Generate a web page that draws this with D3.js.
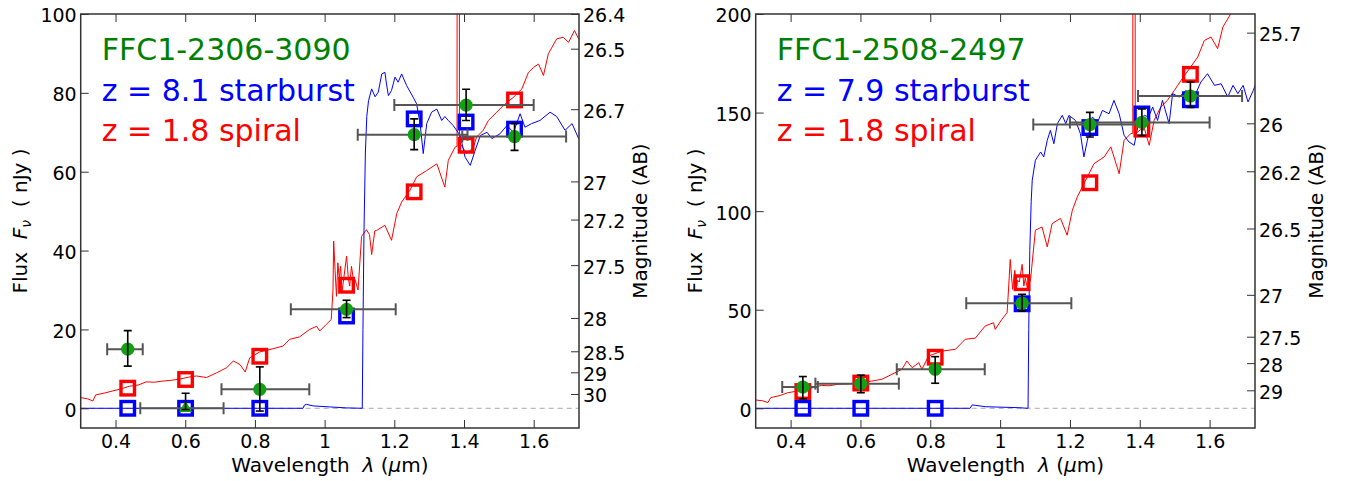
<!DOCTYPE html>
<html><head><meta charset="utf-8">
<script src="https://cdn.jsdelivr.net/npm/d3@7"></script>
<style>
html,body{margin:0;padding:0;background:#fff;}
text{font-family:"DejaVu Sans",sans-serif;white-space:pre;}
</style></head>
<body><svg id="c" width="1349" height="481"></svg>
<script>
// ---------------- data ----------------
const xTicks = [0.4, 0.6, 0.8, 1.0, 1.2, 1.4, 1.6];
const xTickLabels = ["0.4", "0.6", "0.8", "1", "1.2", "1.4", "1.6"];
const xDomain = [0.3, 1.73];

// filter centres and horizontal extents (µm)
const filterX  = [0.435, 0.601, 0.814, 1.063, 1.257, 1.406, 1.545];
const filterLo = [0.376, 0.471, 0.704, 0.903, 1.095, 1.200, 1.395];
const filterHi = [0.478, 0.710, 0.956, 1.204, 1.410, 1.600, 1.693];

// ---- panel 1: FFC1-2306-3090 ----
const p1Title = "FFC1-2306-3090";
const p1Blue = "z = 8.1 starburst";
const p1Red = "z = 1.8 spiral";
const p1YTicks = [0, 20, 40, 60, 80, 100];
const p1YDomain = [-5, 100];
const p1MagTicks = [26.4, 26.5, 26.7, 27, 27.2, 27.5, 28, 28.5, 29, 30];
const p1MagLabels = ["26.4", "26.5", "26.7", "27", "27.2", "27.5", "28", "28.5", "29", "30"];
const p1Obs    = [15.0, 0.0, 4.8, 25.1, 69.4, 76.9, 68.9];
const p1ObsLo  = [10.7, -0.3, -0.7, 23.0, 65.6, 73.0, 65.4];
const p1ObsHi  = [19.7, 3.8, 10.5, 27.4, 73.4, 80.9, 72.2];
const p1Marker = ["o", "^", "o", "o", "o", "o", "o"];
const p1BlueSq = [0, 0, 0, 23.4, 73.4, 72.6, 70.8];
const p1RedSq  = [5.1, 7.3, 13.2, 31.2, 54.9, 66.7, 78.2];
const p1BlueSpec = [[0.3,0],[0.5,0],[0.7,0],[0.938,0],[0.942,0.8],[0.948,1.0],[0.967,0.6],[1.014,0.35],[1.063,0.1],[1.108,0],[1.110,20],[1.113,45],[1.117,65],[1.121,74],[1.126,78],[1.135,81],[1.145,79],[1.154,80.2],[1.164,84.8],[1.173,85.2],[1.178,82],[1.183,79.3],[1.192,80.6],[1.202,84],[1.211,82.7],[1.221,84.8],[1.235,81.9],[1.254,78.9],[1.264,77.2],[1.274,72.2],[1.283,64.6],[1.293,72.2],[1.307,75.1],[1.322,75.9],[1.336,73],[1.345,74],[1.355,73],[1.369,71.7],[1.389,69.2],[1.403,63.7],[1.418,61.6],[1.432,65.4],[1.447,69.2],[1.466,70],[1.48,68.4],[1.503,69.6],[1.523,71.7],[1.542,70],[1.561,74.7],[1.575,71.3],[1.594,72.2],[1.618,73],[1.647,75.1],[1.666,74],[1.69,70.5],[1.71,72.2],[1.729,68.4]];
const p1RedSpec = [[0.3,2.7],[0.32,2.4],[0.335,1.85],[0.343,3.4],[0.37,3.9],[0.392,4.4],[0.415,4.9],[0.44,5.6],[0.465,5.9],[0.488,6.7],[0.51,6.6],[0.536,6.9],[0.56,7.1],[0.584,7.4],[0.61,7.9],[0.632,8.2],[0.661,7.8],[0.69,9.0],[0.719,10.3],[0.738,12.0],[0.757,11.1],[0.772,9.2],[0.785,12.8],[0.814,14.3],[0.852,15.1],[0.881,15.8],[0.9,17.5],[0.928,18.1],[0.957,20.0],[0.977,20.8],[0.986,19.6],[1.005,21.3],[1.019,22.5],[1.024,30],[1.026,42.4],[1.030,35],[1.034,28.4],[1.038,36.9],[1.042,33],[1.046,36],[1.05,29.5],[1.055,33],[1.063,38.6],[1.068,33],[1.072,31],[1.077,36],[1.082,33],[1.087,32.7],[1.096,30],[1.106,43.6],[1.12,45.3],[1.129,44],[1.135,39],[1.144,45],[1.149,45.1],[1.173,46.4],[1.192,42.6],[1.207,49.4],[1.221,52.3],[1.245,55.3],[1.264,58.7],[1.293,60.3],[1.322,62],[1.345,56.1],[1.355,62.9],[1.374,66.2],[1.380,66.5],[1.382,400],[1.385,400],[1.387,66.8],[1.389,67.1],[1.408,64.6],[1.427,66.2],[1.436,68.8],[1.455,70.5],[1.47,73],[1.494,75.1],[1.513,76.8],[1.542,78.9],[1.566,81],[1.585,85.2],[1.6,86.5],[1.614,87.3],[1.628,84.4],[1.642,89.9],[1.666,93.7],[1.685,94.1],[1.7,92.8],[1.717,95.8],[1.729,93.7]];

// ---- panel 2: FFC1-2508-2497 ----
const p2Title = "FFC1-2508-2497";
const p2Blue = "z = 7.9 starburst";
const p2Red = "z = 1.8 spiral";
const p2YTicks = [0, 50, 100, 150, 200];
const p2YDomain = [-10, 200];
const p2MagTicks = [25.7, 26, 26.2, 26.5, 27, 27.5, 28, 29];
const p2MagLabels = ["25.7", "26", "26.2", "26.5", "27", "27.5", "28", "29"];
const p2Obs    = [10.8, 12.5, 19.8, 53.3, 143.9, 145.0, 158.4];
const p2ObsLo  = [4.8, 7.9, 12.7, 49.3, 137.6, 138.3, 152.6];
const p2ObsHi  = [16.1, 16.8, 26.2, 57.8, 150.1, 151.8, 165.5];
const p2Marker = ["o", "o", "o", "o", "o", "o", "o"];
const p2BlueSq = [0, 0, 0, 53, 142.4, 149.3, 156.5];
const p2RedSq  = [8.5, 12.8, 25.9, 63.7, 114.4, 141.6, 169.4];
const p2BlueSpec = [[0.3,0],[0.6,0],[0.914,0],[0.92,1.7],[0.929,1.5],[0.958,0.8],[1.054,0.3],[1.078,0],[1.080,0],[1.082,40],[1.085,80],[1.089,105],[1.092,115.7],[1.101,125.8],[1.116,130],[1.125,127.5],[1.135,135.9],[1.144,141],[1.154,134.2],[1.164,144.4],[1.178,148.6],[1.188,144.4],[1.197,148.6],[1.216,146],[1.23,139.3],[1.24,127.5],[1.25,135.9],[1.264,147.8],[1.279,145],[1.293,151.1],[1.312,149.4],[1.326,156.2],[1.341,149.4],[1.355,138.5],[1.369,135.1],[1.384,133.4],[1.398,146],[1.413,148.6],[1.425,147.8],[1.437,152.8],[1.451,146],[1.465,156.2],[1.484,144.4],[1.494,159.6],[1.513,157.9],[1.532,161.2],[1.556,157.9],[1.575,165.5],[1.594,169.7],[1.614,163.8],[1.633,164.6],[1.652,157.9],[1.667,163.8],[1.681,159.6],[1.696,163.8],[1.71,155.4],[1.725,161.2],[1.732,164.6]];
const p2RedSpec = [[0.3,4.2],[0.32,3.8],[0.335,2.9],[0.343,5.4],[0.37,6.5],[0.392,7.9],[0.415,8.6],[0.44,9.6],[0.465,10.5],[0.488,11.6],[0.51,11.4],[0.536,12.2],[0.56,12.3],[0.584,12.7],[0.61,13.4],[0.632,13.8],[0.661,14.7],[0.69,17.2],[0.719,19.8],[0.733,24],[0.748,20.6],[0.767,23.1],[0.776,19.8],[0.795,26.5],[0.833,29],[0.872,29.9],[0.9,35],[0.929,35.6],[0.957,41.7],[0.981,43.4],[0.986,40],[1.005,45.1],[1.02,48.5],[1.024,60],[1.029,75.5],[1.033,66],[1.036,60.3],[1.042,70],[1.048,62],[1.05,65],[1.055,64],[1.063,73],[1.068,62],[1.072,66],[1.078,61],[1.087,65],[1.101,90.3],[1.12,92],[1.135,81.9],[1.149,93.7],[1.173,96.3],[1.192,87.8],[1.207,100.5],[1.221,107.2],[1.25,117.4],[1.269,124.1],[1.298,127.5],[1.317,132.6],[1.341,119],[1.355,135.9],[1.374,139.3],[1.380,139.5],[1.382,800],[1.385,800],[1.387,140],[1.393,140],[1.412,142.7],[1.427,133.4],[1.441,146],[1.46,152.8],[1.479,156.2],[1.499,161.2],[1.518,166.3],[1.542,172.2],[1.566,178.2],[1.585,186.6],[1.604,188.3],[1.623,182.4],[1.638,193.4],[1.662,200.5],[1.685,206],[1.7,203],[1.717,209],[1.73,205]];

// ---------------- drawing ----------------
const svg = d3.select("#c");
svg.append("rect").attr("width", 1349).attr("height", 481).attr("fill", "#fff");
const magToFlux = m => Math.pow(10, (31.4 - m) / 2.5); // AB mag -> nJy

const GREEN_TXT = "#008000", GREEN_PT = "#13a013";
const TOP = 14, BOTTOM = 428;

function drawPanel(o, idx) {
  const g = svg.append("g");
  const x = d3.scaleLinear().domain(xDomain).range([o.left, o.right]);
  const y = d3.scaleLinear().domain(o.yDomain).range([BOTTOM, TOP]);
  const clipId = "clip" + idx;
  svg.append("defs").append("clipPath").attr("id", clipId)
    .append("rect").attr("x", o.left).attr("y", TOP)
    .attr("width", o.right - o.left).attr("height", BOTTOM - TOP);
  const pg = g.append("g").attr("clip-path", `url(#${clipId})`);

  // zero line
  pg.append("line").attr("x1", x(xDomain[0])).attr("x2", x(xDomain[1]))
    .attr("y1", y(0)).attr("y2", y(0))
    .attr("stroke", "#aaaaaa").attr("stroke-width", 1).attr("stroke-dasharray", "5,4");

  const line = d3.line().x(d => x(d[0])).y(d => y(d[1]));
  pg.append("path").attr("d", line(o.redSpec)).attr("fill", "none")
    .attr("stroke", "#ff0000").attr("stroke-width", 1);
  pg.append("path").attr("d", line(o.blueSpec)).attr("fill", "none")
    .attr("stroke", "#0000ff").attr("stroke-width", 1);

  // model squares
  const sq = 13.5;
  const drawSq = (vals, col) => pg.append("g").selectAll("rect").data(vals).join("rect")
    .attr("x", (d, i) => x(filterX[i]) - sq / 2).attr("y", d => y(d) - sq / 2)
    .attr("width", sq).attr("height", sq).attr("fill", "none")
    .attr("stroke", col).attr("stroke-width", 3.4);
  drawSq(o.blueSq, "#0000ff");
  drawSq(o.redSq, "#ff0000");

  // horizontal (filter width) error bars
  const xe = pg.append("g").attr("stroke", "#555555").attr("stroke-width", 2);
  o.obs.forEach((v, i) => {
    xe.append("line").attr("x1", x(filterLo[i])).attr("x2", x(filterHi[i]))
      .attr("y1", y(v)).attr("y2", y(v));
    [filterLo[i], filterHi[i]].forEach(xx => xe.append("line")
      .attr("x1", x(xx)).attr("x2", x(xx)).attr("y1", y(v) - 6).attr("y2", y(v) + 6));
  });

  // observed points
  o.obs.forEach((v, i) => {
    if (o.marker[i] === "^") {
      pg.append("path").attr("d", d3.symbol(d3.symbolTriangle, 75)())
        .attr("transform", `translate(${x(filterX[i])},${y(v)})`).attr("fill", GREEN_PT);
    } else {
      pg.append("circle").attr("cx", x(filterX[i])).attr("cy", y(v)).attr("r", 6.6)
        .attr("fill", GREEN_PT);
    }
  });

  // vertical error bars
  const ye = pg.append("g").attr("stroke", "#000").attr("stroke-width", 1.6);
  o.obs.forEach((v, i) => {
    const cx = x(filterX[i]);
    ye.append("line").attr("x1", cx).attr("x2", cx).attr("y1", y(o.obsLo[i])).attr("y2", y(o.obsHi[i]));
    [o.obsLo[i], o.obsHi[i]].forEach(yy => ye.append("line")
      .attr("x1", cx - 4).attr("x2", cx + 4).attr("y1", y(yy)).attr("y2", y(yy)));
  });

  // axes
  const styleAxis = sel => {
    sel.select(".domain").remove();
    sel.selectAll(".tick line").attr("stroke", "#333").attr("stroke-width", 1);
    sel.selectAll(".tick text").attr("fill", "#000").style("font-size", "19px")
      .style("font-family", "DejaVu Sans");
  };
  g.append("g").attr("transform", `translate(0,${BOTTOM})`)
    .call(d3.axisBottom(x).tickValues(xTicks).tickFormat((d, i) => xTickLabels[i])
      .tickSizeInner(-8).tickSizeOuter(0).tickPadding(7)).call(styleAxis);
  g.append("g").attr("transform", `translate(0,${TOP})`)
    .call(d3.axisTop(x).tickValues(xTicks).tickFormat("").tickSizeInner(-8).tickSizeOuter(0))
    .call(styleAxis);
  g.append("g").attr("transform", `translate(${o.left},0)`)
    .call(d3.axisLeft(y).tickValues(o.yTicks).tickFormat(d3.format("d"))
      .tickSizeInner(-8).tickSizeOuter(0).tickPadding(4)).call(styleAxis)
    .selectAll(".tick text").attr("dy", "0.42em");
  g.append("g").attr("transform", `translate(${o.right},0)`)
    .call(d3.axisRight(y).tickValues(o.magTicks.map(magToFlux))
      .tickFormat((d, i) => o.magLabels[i]).tickSizeInner(-8).tickSizeOuter(0).tickPadding(4))
    .call(styleAxis)
    .selectAll(".tick text").attr("dy", "0.42em");

  // frame
  g.append("rect").attr("x", o.left).attr("y", TOP).attr("width", o.right - o.left)
    .attr("height", BOTTOM - TOP).attr("fill", "none").attr("stroke", "#333").attr("stroke-width", 1.5);

  // legend text
  const lx = o.left + 21;
  [[o.title, GREEN_TXT, 60], [o.blueLabel, "#0000ff", 100.5], [o.redLabel, "#ff0000", 141]]
    .forEach(([t, c, yy]) => g.append("text").attr("x", lx).attr("y", yy).text(t)
      .attr("fill", c).style("font-size", "30px"));

  // x label
  const xl = g.append("text").attr("x", (o.left + o.right) / 2).attr("y", 471.5)
    .attr("text-anchor", "middle").style("font-size", "20px").attr("fill", "#000");
  xl.append("tspan").text("Wavelength  ");
  xl.append("tspan").text("λ").style("font-style", "italic");
  xl.append("tspan").text(" (");
  xl.append("tspan").text("μ").style("font-style", "italic");
  xl.append("tspan").text("m)");

  // left y label
  const yl = g.append("text").attr("transform", `translate(${o.left - 54},221) rotate(-90)`)
    .attr("text-anchor", "middle").style("font-size", "20px").attr("fill", "#000");
  yl.append("tspan").text("Flux  ");
  yl.append("tspan").text("F").style("font-style", "italic");
  yl.append("tspan").text("ν").style("font-style", "italic").style("font-size", "14px").attr("dy", 4);
  yl.append("tspan").text("  ( nJy )").attr("dy", -4);

  // right y label
  g.append("text").attr("transform", `translate(${o.right + 68},221) rotate(-90)`)
    .attr("text-anchor", "middle").style("font-size", "20px").attr("fill", "#000")
    .text("Magnitude (AB)");
}

drawPanel({left: 80.7, right: 579, yDomain: p1YDomain, yTicks: p1YTicks,
  magTicks: p1MagTicks, magLabels: p1MagLabels, obs: p1Obs, obsLo: p1ObsLo, obsHi: p1ObsHi,
  marker: p1Marker, blueSq: p1BlueSq, redSq: p1RedSq, blueSpec: p1BlueSpec, redSpec: p1RedSpec,
  title: p1Title, blueLabel: p1Blue, redLabel: p1Red}, 1);
drawPanel({left: 755.7, right: 1255, yDomain: p2YDomain, yTicks: p2YTicks,
  magTicks: p2MagTicks, magLabels: p2MagLabels, obs: p2Obs, obsLo: p2ObsLo, obsHi: p2ObsHi,
  marker: p2Marker, blueSq: p2BlueSq, redSq: p2RedSq, blueSpec: p2BlueSpec, redSpec: p2RedSpec,
  title: p2Title, blueLabel: p2Blue, redLabel: p2Red}, 2);
</script></body></html>
